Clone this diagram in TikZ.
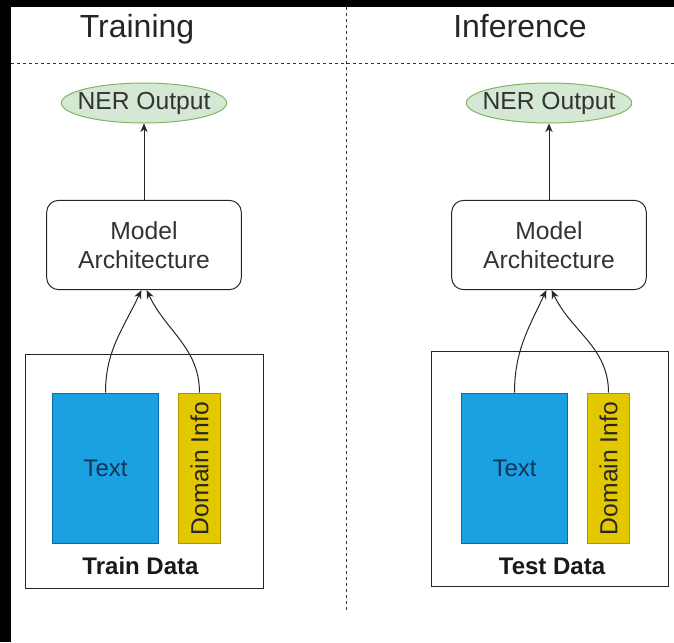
\documentclass[tikz,border=0pt]{standalone}
\usepackage{fontspec}
\setmainfont{Liberation Sans}
\usetikzlibrary{arrows.meta, positioning, shapes.geometric}
\definecolor{nerfill}{HTML}{D5E8D4}
\definecolor{nerline}{HTML}{82B366}
\definecolor{txtfill}{HTML}{1BA1E2}
\definecolor{txtline}{HTML}{006EAF}
\definecolor{txtfont}{HTML}{10345A}
\definecolor{domfill}{HTML}{E3C800}
\definecolor{domline}{HTML}{B09500}
\definecolor{ink}{HTML}{333333}

\begin{document}
\begin{tikzpicture}[x={(0.75pt,0pt)}, y={(0pt,-0.75pt)},
  line width=0.75pt,
  nerout/.style={ellipse, draw=nerline, fill=nerfill, inner xsep=-6pt, inner ysep=0pt,
    minimum width=124pt, minimum height=30pt,
    font=\fontsize{18.5}{20}\selectfont, text=ink},
  modelbox/.style={draw=black!85, rounded corners=9pt, fill=white,
    minimum width=146pt, minimum height=67pt, align=center,
    font=\fontsize{18.5}{21.5}\selectfont, text=ink},
  databox/.style={draw=black!85, fill=white, inner sep=0pt},
  textblock/.style={draw=txtline, fill=txtfill, inner sep=0pt,
    minimum width=79pt, minimum height=113pt,
    font=\fontsize{18}{20}\selectfont, text=txtfont},
  domblock/.style={draw=domline, fill=domfill, inner sep=0pt, rotate=90,
    minimum width=113pt, minimum height=32pt,
    font=\fontsize{18.5}{20}\selectfont, text=black!85},
  datalabel/.style={font=\fontsize{18}{20}\selectfont\bfseries, text=black!90},
  headline/.style={anchor=base, font=\fontsize{24}{28}\selectfont, text=black!85},
  sep/.style={draw=ink, dash pattern=on 2.25pt off 2.25pt},
  flow/.style={-{Stealth[length=6.5pt, width=5.5pt]}, draw=black!85}
]
  % frame
  \useasboundingbox (0,0) rectangle (674,642);
  \fill[white] (0,0) rectangle (674,642);
  \fill[black] (0,0) rectangle (11,642);
  \fill[black] (0,0) rectangle (674,7);

  % separators and titles
  \draw[sep] (11,64) -- (674,64);
  \draw[sep] (346,7) -- (346,612);
  \node[headline] (trainhead) at (137,38) {Training};
  \node[headline] (inferhead) at (520,38) {Inference};

  % training side
  \draw[databox] (25,354) rectangle (263,588);
  \node[nerout] (nerL) at (144,103) {NER Output};
  \node[modelbox] (modelL) at (144,245) {Model\\Architecture};
  \node[textblock] (txtL) at (105.5,468.5) {Text};
  \node[domblock] (domL) at (199.5,468.5) {Domain Info};
  \node[datalabel] (trainlbl) at (140.5,566) {Train Data};

  % inference side
  \draw[databox] (431,351) rectangle (668,586);
  \node[nerout] (nerR) at (549,103) {NER Output};
  \node[modelbox] (modelR) at (549,245) {Model\\Architecture};
  \node[textblock] (txtR) at (514.5,468.5) {Text};
  \node[domblock] (domR) at (608.5,468.5) {Domain Info};
  \node[datalabel] (testlbl) at (552,566) {Test Data};

  % connectors
  \draw[flow] (modelL.north) -- (nerL.south);
  \draw[flow] (txtL.north) to[out=90, in=-115] ([xshift=-2pt]modelL.south);
  \draw[flow] (domL.east) to[out=90, in=-65] ([xshift=2pt]modelL.south);
  \draw[flow] (modelR.north) -- (nerR.south);
  \draw[flow] (txtR.north) to[out=90, in=-115] ([xshift=-2pt]modelR.south);
  \draw[flow] (domR.east) to[out=90, in=-65] ([xshift=2pt]modelR.south);
\end{tikzpicture}
\end{document}
